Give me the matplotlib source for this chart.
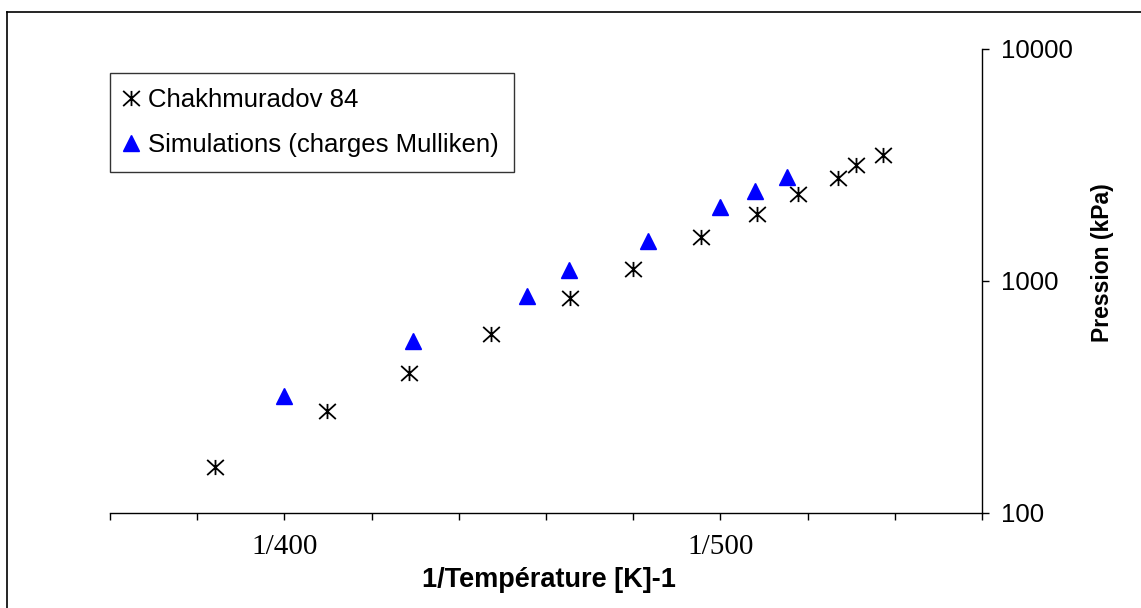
import matplotlib
matplotlib.use("Agg")
import matplotlib.pyplot as plt
from matplotlib.path import Path
from matplotlib.ticker import FixedLocator, FuncFormatter, NullLocator
from matplotlib.lines import Line2D

# data: temperature (K) and vapour pressure (kPa)
t_exp = [387.7, 407.9, 424.2, 441.9, 460.3, 476.2, 494.6, 510.6, 523.2, 536.0, 542.0, 551.3]
p_exp = [158, 275, 400, 589, 841, 1119, 1537, 1932, 2356, 2762, 3141, 3467]
t_sim = [400, 425, 450, 460, 480, 500, 510, 520]
p_sim = [318, 550, 857, 1110, 1479, 2070, 2426, 2786]

label_exp = "Chakhmuradov 84"
label_sim = "Simulations (charges Mulliken)"

plt.rcParams["font.family"] = "Liberation Sans"

# asterisk marker like excel (vertical bar + X)
star = Path([(0, -1), (0, 1), (-1.1, -1), (1.1, 1), (-1.1, 1), (1.1, -1)],
            [Path.MOVETO, Path.LINETO, Path.MOVETO, Path.LINETO, Path.MOVETO, Path.LINETO])

W, H = 1141, 608
fig = plt.figure(figsize=(W / 100, H / 100), dpi=100)
ax = fig.add_axes([110 / W, (H - 513) / H, (982 - 110) / W, (513 - 48.5) / H])

x_exp = [1 / t for t in t_exp]
x_sim = [1 / t for t in t_sim]
ax.plot(x_exp, p_exp, linestyle="none", marker=star, markersize=12, markeredgewidth=1.3,
        color="black", label=label_exp)
ax.plot(x_sim, p_sim, linestyle="none", marker="^", markersize=11.5, color="#0000ff",
        markeredgecolor="#0000ff", label=label_sim)

ax.set_yscale("log")
ax.set_ylim(100, 10000)
ax.set_xlim(0.0027, 0.0017)

for s in ["top", "left"]:
    ax.spines[s].set_visible(False)
ax.spines["bottom"].set_linewidth(1)
ax.spines["right"].set_linewidth(1)

ax.yaxis.tick_right()
ax.yaxis.set_major_locator(FixedLocator([100, 1000, 10000]))
ax.yaxis.set_minor_locator(NullLocator())
ax.yaxis.set_major_formatter(FuncFormatter(lambda v, p: "%d" % v))
ax.tick_params(axis="y", direction="out", length=5, width=1, pad=9, labelsize=18.5)

xt = [0.0027 - 0.0001 * i for i in range(11)]
ax.xaxis.set_major_locator(FixedLocator(xt))
ax.xaxis.set_major_formatter(FuncFormatter(
    lambda v, p: "1/%d" % round(1 / v) if abs(v - 0.0025) < 1e-7 or abs(v - 0.002) < 1e-7 else ""))
ax.tick_params(axis="x", direction="out", length=5, width=1, pad=10)
for lab in ax.get_xticklabels():
    lab.set_fontfamily("Liberation Serif")
    lab.set_fontsize(21)

ax.set_xlabel("1/Température [K]-1", fontsize=19.5, fontweight="bold")
ax.xaxis.label.set_va("center")
ax.xaxis.set_label_coords((549 - 110) / 872, (513 - 580) / 464.5)

ax.yaxis.set_label_position("right")
ax.set_ylabel("Pression (kPa)", fontsize=16.5, fontweight="bold", rotation=90)
ax.yaxis.label.set_va("center")
ax.yaxis.label.set_ha("center")
ax.yaxis.set_label_coords((1102 - 110) / 872, (513 - 263) / 464.5)

leg = ax.legend(loc="upper left", bbox_to_anchor=(110 / W, (H - 73) / H),
                bbox_transform=fig.transFigure, borderaxespad=0, fontsize=18.5,
                fancybox=False, frameon=True, handlelength=0.44, handletextpad=0.44,
                borderpad=0.6, labelspacing=0.8)
leg.get_frame().set_edgecolor("black")
leg.get_frame().set_linewidth(1)

# outer chart border (only left/top visible in the crop)
fig.add_artist(Line2D([7 / W, 7 / W], [0, (H - 12) / H], transform=fig.transFigure,
                      color="black", linewidth=1.2))
fig.add_artist(Line2D([7 / W, 1], [(H - 12) / H, (H - 12) / H], transform=fig.transFigure,
                      color="black", linewidth=1.2))

fig.savefig("out.png", dpi=100)
